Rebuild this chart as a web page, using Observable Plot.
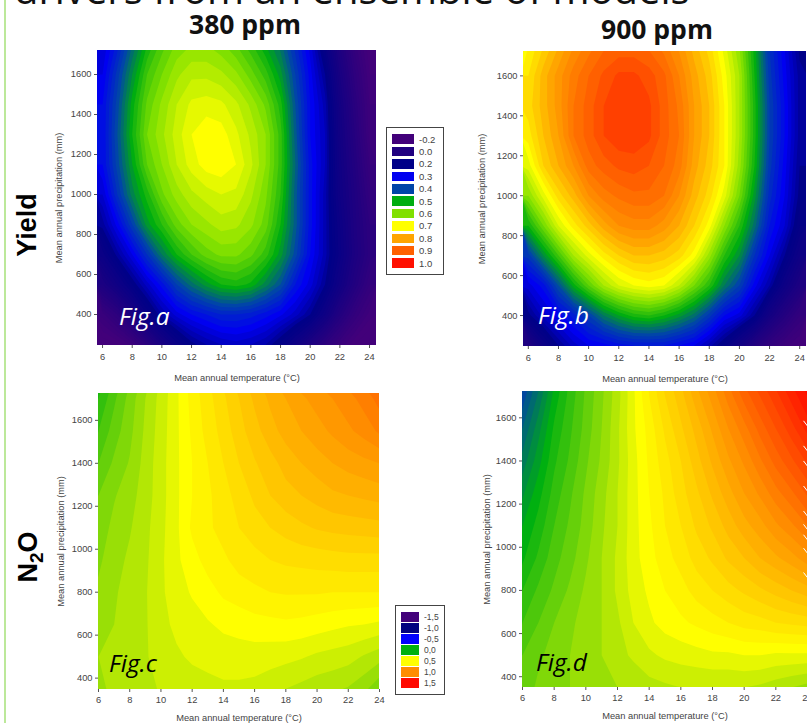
<!DOCTYPE html>
<html><head><meta charset="utf-8">
<script src="https://cdn.jsdelivr.net/npm/d3@7"></script>
<script src="https://cdn.jsdelivr.net/npm/@observablehq/plot@0.6"></script>
<style>
html,body{margin:0;padding:0;background:#fff;width:807px;height:723px;overflow:hidden}
#root{position:relative;width:807px;height:723px;overflow:hidden;font-family:"Liberation Sans",Arial,sans-serif}
.abs{position:absolute;white-space:nowrap}
.panel{position:absolute}
.panel svg{display:block;background:transparent;overflow:visible;max-width:none !important}
.legend{position:absolute;box-sizing:border-box;border:1.3px solid #444;background:#fff;display:flex;flex-direction:column}
.legend .row{display:flex;align-items:center;color:#444}
.fig{position:absolute;font-family:"Open Sans";font-style:italic;font-size:24.5px;line-height:1}
.ttl{position:absolute;font-family:"Open Sans";font-weight:700;font-size:26.5px;line-height:1;color:#111;white-space:nowrap}
.side{position:absolute;font-family:"Liberation Sans";font-weight:700;font-size:27px;line-height:1;color:#000;transform:translate(-50%,-50%) rotate(-90deg)}
</style></head><body><div id="root"></div>
<script>
// Columns are mean annual temperature 6..24 °C in 1° steps
const tempCount = 19;
// Yield panels: rows at 250,400,...,1750 mm (bottom to top)
const yieldRows = [250,400,550,700,850,1000,1150,1300,1450,1600,1750];
const yield380 = [
 -.24,-.22,-.17,-.07,.04,.13,.19,.22,.24,.25,.24,.22,.17,.1,.01,-.08,-.16,-.22,-.25,
 -.15,-.08,.03,.14,.22,.27,.3,.32,.34,.34,.33,.31,.285,.25,.2,.1,-.02,-.12,-.19,
 .02,.1,.18,.25,.31,.38,.43,.47,.5,.51,.495,.45,.4,.32,.27,.2,.09,-.02,-.12,
 .13,.21,.28,.36,.44,.5,.54,.57,.585,.585,.565,.53,.47,.39,.3,.23,.13,.02,-.07,
 .21,.29,.38,.47,.52,.57,.6,.615,.63,.625,.605,.57,.5,.41,.31,.23,.12,.01,-.08,
 .26,.36,.45,.51,.575,.61,.635,.65,.66,.655,.625,.585,.52,.41,.31,.23,.1,0,-.11,
 .3,.39,.48,.56,.6,.64,.67,.69,.695,.68,.645,.6,.53,.42,.31,.24,.09,-.02,-.14,
 .3,.4,.5,.58,.615,.65,.68,.695,.69,.665,.635,.6,.53,.41,.3,.24,.08,-.04,-.17,
 .3,.39,.49,.565,.605,.64,.665,.67,.665,.645,.615,.575,.51,.4,.3,.23,.07,-.06,-.18,
 .28,.37,.46,.54,.58,.615,.635,.635,.625,.605,.57,.53,.47,.38,.29,.2,.04,-.09,-.2,
 .26,.33,.42,.5,.55,.585,.6,.6,.585,.56,.525,.48,.43,.35,.27,.15,0,-.13,-.22];
const yield900 = [
 0,.12,.2,.25,.28,.29,.31,.32,.32,.32,.3,.28,.23,.17,.08,-.02,-.11,-.17,-.21,
 .19,.25,.29,.33,.38,.44,.48,.51,.52,.5,.47,.43,.37,.3,.27,.2,.07,-.03,-.12,
 .27,.31,.4,.49,.56,.62,.66,.68,.69,.68,.64,.58,.52,.44,.38,.29,.22,.11,.01,
 .37,.46,.54,.62,.67,.71,.74,.76,.76,.75,.73,.69,.61,.52,.46,.36,.28,.2,.1,
 .5,.58,.66,.71,.75,.79,.82,.83,.83,.81,.78,.74,.69,.6,.52,.43,.32,.26,.16,
 .6,.67,.73,.77,.82,.85,.865,.875,.875,.86,.82,.77,.73,.67,.58,.47,.35,.28,.19,
 .67,.74,.78,.82,.87,.89,.905,.91,.9,.88,.85,.79,.75,.7,.61,.5,.37,.29,.2,
 .71,.76,.8,.86,.89,.92,.935,.935,.925,.89,.86,.8,.76,.7,.62,.51,.38,.3,.21,
 .73,.77,.81,.86,.89,.92,.935,.935,.925,.89,.855,.8,.76,.7,.62,.51,.38,.3,.21,
 .72,.77,.81,.85,.88,.905,.925,.925,.91,.885,.84,.79,.75,.69,.62,.5,.37,.29,.21,
 .7,.74,.78,.82,.85,.875,.885,.885,.875,.85,.815,.77,.73,.67,.6,.49,.36,.28,.19];
// N2O panels: rows at 350,500,...,1850 mm (bottom to top)
const n2oRows = [350,500,650,800,950,1100,1250,1400,1550,1700,1850];
const n2o380 = [
 .34,.36,.37,.385,.405,.41,.42,.43,.44,.44,.435,.42,.4,.385,.37,.36,.345,.315,.26,
 .35,.36,.37,.395,.42,.44,.46,.47,.475,.475,.475,.47,.465,.455,.44,.43,.42,.395,.37,
 .33,.35,.37,.395,.43,.465,.48,.495,.51,.52,.53,.535,.54,.535,.525,.515,.505,.5,.49,
 .31,.345,.365,.395,.44,.48,.505,.53,.56,.575,.59,.6,.605,.605,.605,.6,.6,.6,.6,
 .29,.33,.36,.39,.44,.49,.53,.57,.59,.62,.63,.65,.66,.665,.67,.675,.68,.68,.68,
 .27,.315,.345,.385,.435,.49,.56,.59,.62,.65,.68,.7,.72,.74,.755,.765,.77,.775,.78,
 .25,.295,.33,.375,.43,.49,.55,.59,.63,.67,.71,.75,.78,.8,.82,.84,.85,.86,.87,
 .2,.26,.305,.37,.43,.49,.55,.6,.65,.7,.745,.78,.82,.85,.875,.9,.92,.935,.95,
 .15,.225,.285,.36,.425,.49,.56,.62,.67,.73,.78,.83,.87,.9,.93,.96,.99,1.02,1.06,
 .1,.19,.27,.35,.42,.49,.57,.63,.69,.75,.81,.86,.9,.94,.97,1,1.03,1.07,1.12,
 .05,.14,.23,.31,.4,.49,.58,.65,.72,.79,.85,.91,.95,1,1.03,1.06,1.1,1.14,1.18];
const n2o900 = [
 .22,.26,.28,.3,.32,.33,.35,.36,.38,.39,.4,.4,.4,.4,.4,.39,.37,.35,.33,
 .2,.24,.27,.3,.33,.35,.38,.41,.44,.46,.47,.48,.49,.49,.5,.5,.49,.49,.49,
 .15,.2,.25,.29,.32,.35,.39,.45,.49,.52,.54,.56,.58,.6,.62,.63,.65,.66,.67,
 .1,.16,.21,.26,.31,.35,.41,.47,.51,.55,.58,.62,.65,.68,.71,.74,.77,.8,.83,
 .04,.11,.18,.23,.29,.35,.41,.48,.53,.58,.62,.67,.71,.76,.8,.85,.89,.93,.98,
 0,.07,.15,.21,.27,.34,.4,.48,.54,.6,.65,.71,.76,.82,.88,.93,.99,1.04,1.1,
 -.06,.03,.12,.19,.26,.33,.4,.48,.55,.61,.68,.74,.81,.88,.95,1.01,1.08,1.14,1.21,
 -.13,-.02,.09,.16,.24,.31,.39,.48,.56,.63,.7,.78,.86,.94,1.01,1.09,1.17,1.24,1.31,
 -.2,-.07,.06,.14,.22,.3,.39,.49,.57,.66,.74,.82,.91,1,1.08,1.17,1.25,1.33,1.42,
 -.28,-.14,.02,.12,.21,.29,.38,.49,.6,.7,.78,.88,.97,1.07,1.17,1.25,1.33,1.42,1.5,
 -.36,-.2,-.03,.1,.2,.28,.38,.5,.62,.74,.82,.94,1.03,1.14,1.26,1.34,1.42,1.5,1.6];
// White flecks along the right edge of Fig.d (precipitation, mm)
const flecksD = [1574,1458,1388,1272,1156,1094,1046,984,871];

const yieldLegendLabels = ["-0.2","0.0","0.2","0.3","0.4","0.5","0.6","0.7","0.8","0.9","1.0"];
const yieldLegendColors = ["#42007a","#200080","#000088","#0000f0","#0045a8","#00ad10","#80e000","#ffff00","#ffa500","#ff6000","#ff1000"];
const yieldStops = [-0.22,-0.02,0.18,0.28,0.38,0.48,0.58,0.68,0.78,0.88,0.98];
const n2oLegendLabels = ["-1,5","-1,0","-0,5","0,0","0,5","1,0","1,5"];
const n2oLegendColors = ["#42007a","#000080","#0000ff","#00b010","#ffff00","#ff8c00","#ff0a00"];
const n2oStops = [-1.5,-1,-.5,0,.5,1,1.5];
const tickT = d3.range(6,25,2);
const tickP = d3.range(400,1601,200);

const root = document.getElementById("root");
function el(cls,css,html){const d=document.createElement("div");d.className=cls;d.style.cssText=css;if(html)d.innerHTML=html;root.appendChild(d);return d;}

function panel(o){
  const ml=50,mt=6,mr=14,mb=40;
  const p=Plot.plot({
    width:o.w+ml+mr,height:o.h+mt+mb,marginLeft:ml,marginTop:mt,marginRight:mr,marginBottom:mb,
    style:{fontFamily:"Liberation Sans, Arial, sans-serif",fontSize:"9px",color:"#444",background:"transparent"},
    x:{domain:o.xd,ticks:tickT,label:null},
    y:{domain:o.yd,ticks:tickP,label:null},
    color:{type:"linear",domain:o.stops,range:o.colors,interpolate:"rgb",clamp:true},
    marks:[
      Plot.contour(o.values,{width:tempCount,height:o.rows.length,
        x1:5.5,x2:24.5,y1:o.rows[0]-75,y2:o.rows[o.rows.length-1]+75,
        fill:Plot.identity,thresholds:o.thresholds,clip:true}),
      o.flecks?Plot.link(o.flecks,{x1:23.75,x2:24,y1:d=>d+12,y2:d=>d-12,stroke:"#fff",strokeWidth:1,clip:true}):null,
      Plot.axisX({ticks:tickT,tickFormat:"d",tickSize:3,tickPadding:o.tp,label:"Mean annual temperature (°C)",labelAnchor:"center",labelArrow:"none",labelOffset:o.xlo,fontSize:9.3,stroke:"#555"}),
      Plot.axisY({ticks:tickP,tickFormat:"d",tickSize:3,tickPadding:3,label:"Mean annual precipitation (mm)",labelAnchor:"center",labelArrow:"none",labelOffset:o.ylo,fontSize:9.3,stroke:"#555"})
    ]
  });
  const d=el("panel",`left:${o.x-ml}px;top:${o.y-mt}px`);
  d.appendChild(p);
}
const yT=d3.range(-15,51).map(i=>i*0.02), nT=d3.range(-12,35).map(i=>i*0.05);
panel({x:97,y:50,w:279,h:295,xd:[5.66,24.47],yd:[245,1720],values:yield380,rows:yieldRows,stops:yieldStops,colors:yieldLegendColors,thresholds:yT,xlo:35,ylo:42,tp:5});
panel({x:523,y:51,w:283,h:295,xd:[5.68,24.45],yd:[245,1722],values:yield900,rows:yieldRows,stops:yieldStops,colors:yieldLegendColors,thresholds:yT,xlo:35,ylo:45,tp:5});
panel({x:98,y:393,w:281,h:296,xd:[6,24],yd:[347,1725],values:n2o380,rows:n2oRows,stops:n2oStops,colors:n2oLegendColors,thresholds:nT,xlo:31,ylo:41,tp:4});
panel({x:522,y:391,w:285,h:296,xd:[6,24],yd:[350,1722],values:n2o900,rows:n2oRows,stops:n2oStops,colors:n2oLegendColors,thresholds:nT,xlo:31,ylo:39,tp:4,flecks:flecksD});

function legend(css,labels,colors,sw,fs,pitch){
  const L=el("legend",css);
  labels.forEach((t,i)=>{
    const r=document.createElement("div");r.className="row";r.style.height=pitch+"px";r.style.fontSize=fs+"px";
    r.innerHTML=`<span style="display:block;width:${sw[0]}px;height:${sw[1]}px;background:${colors[i]};margin-right:5px"></span>${t}`;
    L.appendChild(r);
  });
}
legend("left:386px;top:127px;width:58px;height:148px;padding:5px 0 0 5px",yieldLegendLabels,yieldLegendColors,[22,9.5],9.5,12.4);
legend("left:395px;top:605px;width:50px;height:90px;padding:5px 0 0 5px",n2oLegendLabels,n2oLegendColors,[18,10],8.5,11);

// Page furniture
el("abs","left:4px;top:0;width:2px;height:723px;background:#bce89a");
el("abs",'left:14px;top:-31px;font-family:"Open Sans";font-size:40px;line-height:40px;color:#111',"drivers from an ensemble of models");
el("ttl","left:189px;top:11px","380 ppm");
el("ttl","left:601px;top:16px","900 ppm");
el("side","left:27px;top:225px","Yield");
el("side","left:28px;top:557px",'N<sub style="font-size:19px;line-height:0">2</sub>O');
el("fig","left:119px;top:304px;color:#fff","Fig.a");
el("fig","left:538px;top:303px;color:#fff","Fig.b");
el("fig","left:109px;top:651px;color:#000","Fig.c");
el("fig","left:536px;top:650px;color:#000","Fig.d");
</script></body></html>
